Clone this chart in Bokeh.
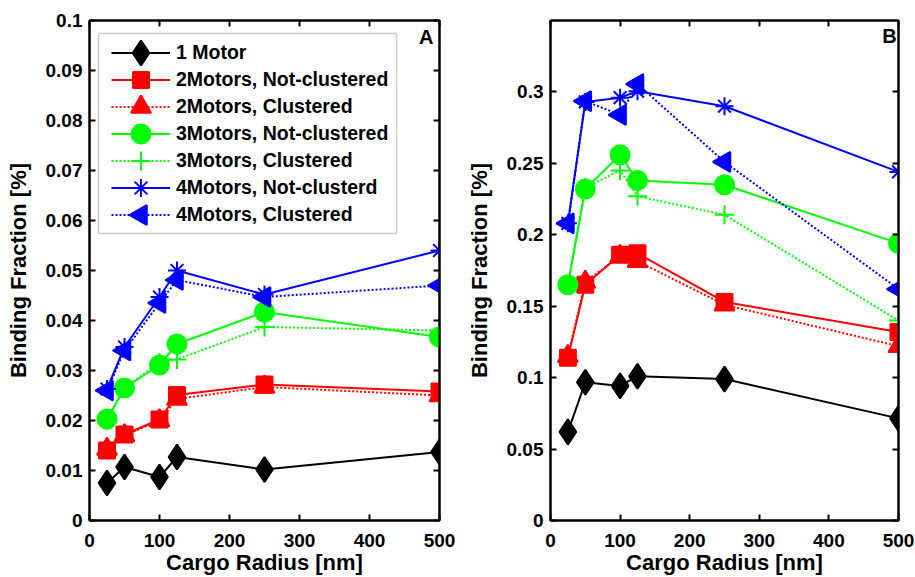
import math
from bokeh.plotting import figure
from bokeh.layouts import row
from bokeh.models import (LinearAxis, FixedTicker, CustomJSTickFormatter, Range1d,
                          Label, Legend, BoxAnnotation)
from bokeh.embed import file_html
from bokeh.resources import INLINE

# ---------------- data ----------------
radius = [25, 50, 100, 125, 250, 500]
series_names = ["1 Motor", "2Motors, Not-clustered", "2Motors, Clustered",
                "3Motors, Not-clustered", "3Motors, Clustered",
                "4Motors, Not-clusterd", "4Motors, Clustered"]

# Panel A
a_1m = [0.0075, 0.0107, 0.0087, 0.0127, 0.0102, 0.0137]
a_2m_nc = [0.0140, 0.0172, 0.0202, 0.0251, 0.0272, 0.0258]
a_2m_c = [0.0143, 0.0170, 0.0200, 0.0243, 0.0267, 0.0250]
a_3m_nc = [0.0203, 0.0265, 0.0311, 0.0353, 0.0417, 0.0367]
a_3m_c = [0.0200, 0.0265, 0.0316, 0.0322, 0.0387, 0.0380]
a_4m_nc = [0.0263, 0.0347, 0.0447, 0.0500, 0.0452, 0.0540]
a_4m_c = [0.0260, 0.0340, 0.0435, 0.0481, 0.0447, 0.0470]

# Panel B
b_1m = [0.0620, 0.0968, 0.0942, 0.1010, 0.0990, 0.0715]
b_2m_nc = [0.1140, 0.1650, 0.1860, 0.1870, 0.1530, 0.1320]
b_2m_c = [0.1150, 0.1670, 0.1850, 0.1815, 0.1510, 0.1220]
b_3m_nc = [0.1650, 0.2320, 0.2560, 0.2380, 0.2350, 0.1940]
b_3m_c = [0.1650, 0.2330, 0.2450, 0.2270, 0.2140, 0.1400]
b_4m_nc = [0.2080, 0.2930, 0.2960, 0.3005, 0.2900, 0.2440]
b_4m_c = [0.2080, 0.2935, 0.2840, 0.3055, 0.2510, 0.1620]

a_ticks = [0, 0.01, 0.02, 0.03, 0.04, 0.05, 0.06, 0.07, 0.08, 0.09, 0.1]
b_ticks = [0, 0.05, 0.1, 0.15, 0.2, 0.25, 0.3]
x_ticks = [0, 100, 200, 300, 400, 500]

styles = [
    dict(color="#000000", marker="diamond", size=25, dash="solid", angle=0.0),
    dict(color="#FF0000", marker="square", size=16, dash="solid", angle=0.0),
    dict(color="#FF0000", marker="triangle", size=20, dash="2 2", angle=0.0),
    dict(color="#00FF00", marker="circle", size=19, dash="solid", angle=0.0),
    dict(color="#00FF00", marker="cross", size=19, dash="2 2", angle=0.0),
    dict(color="#0000FF", marker="asterisk", size=18, dash="solid", angle=0.0),
    dict(color="#0000FF", marker="triangle", size=20, dash="2 2", angle=math.pi / 2),
]

FONT = "Liberation Sans"
fmt = CustomJSTickFormatter(code="""
var s = tick.toFixed(2);
s = s.replace(/0+$/, '').replace(/\\.$/, '');
return s;
""")

# frame geometry (pixels) used to place legend parts
FRAME_H = 500.0
FRAME_W_A = 350.0


def style_axis(ax, labels=True):
    ax.axis_line_width = 2
    ax.axis_line_color = "black"
    ax.major_tick_line_width = 2
    ax.major_tick_line_color = "black"
    ax.major_tick_in = 6
    ax.major_tick_out = 0
    ax.minor_tick_line_color = None
    ax.major_label_text_font = FONT
    ax.major_label_text_font_style = "bold"
    ax.major_label_text_font_size = "19px" if labels else "0px"
    ax.major_label_text_color = "black"
    ax.axis_label_text_font = FONT
    ax.axis_label_text_font_style = "bold"
    ax.axis_label_text_font_size = "22px"
    ax.axis_label_text_color = "black"


def make_panel(data, yticks, ymax, width, bl, br, letter, lx, ly, legend):
    p = figure(width=width, height=577, output_backend="svg", toolbar_location=None,
               x_range=Range1d(0, 500), y_range=Range1d(0, ymax),
               min_border_left=bl, min_border_right=br, min_border_top=20,
               min_border_bottom=57)
    p.grid.grid_line_color = None
    p.outline_line_color = "black"
    p.outline_line_width = 2
    p.background_fill_color = "white"
    p.border_fill_color = "white"

    p.xaxis.ticker = FixedTicker(ticks=x_ticks)
    p.yaxis.ticker = FixedTicker(ticks=yticks)
    p.yaxis.formatter = fmt
    p.xaxis.axis_label = "Cargo Radius [nm]"
    p.yaxis.axis_label = "Binding Fraction [%]"
    style_axis(p.xaxis[0])
    style_axis(p.yaxis[0])
    p.yaxis.major_label_standoff = 7
    p.yaxis.axis_label_standoff = 12
    p.xaxis.major_label_standoff = 13
    p.xaxis.axis_label_standoff = 0

    top = LinearAxis(ticker=FixedTicker(ticks=x_ticks))
    right = LinearAxis(ticker=FixedTicker(ticks=yticks))
    style_axis(top, labels=False)
    style_axis(right, labels=False)
    top.major_label_standoff = 0
    right.major_label_standoff = 0
    p.add_layout(top, "above")
    p.add_layout(right, "right")

    items = []
    for name, ys, st in zip(series_names, data, styles):
        ln = p.line(radius, ys, line_color=st["color"], line_width=2,
                    line_dash=st["dash"])
        p.scatter(radius, ys, marker=st["marker"], size=st["size"],
                  fill_color=st["color"], line_color=st["color"],
                  line_width=2, angle=st["angle"])
        items.append((name, [ln]))

    if legend:
        ux = 500.0 / FRAME_W_A      # data units per pixel (x)
        uy = ymax / FRAME_H         # data units per pixel (y)
        # legend frame: pixels 9..307 from frame left, 13..213 from frame top
        box = BoxAnnotation(left=9 * ux, right=307 * ux,
                            top=ymax - 13 * uy, bottom=ymax - 213 * uy,
                            fill_color="white", fill_alpha=1.0,
                            line_color="#555555", line_width=1.5)
        p.add_layout(box)
        row_h = 27
        top_off = 19
        lg = Legend(items=items, location=(22, int(FRAME_H - top_off - 7 * row_h)))
        lg.margin = 0
        lg.padding = 0
        lg.spacing = 0
        lg.glyph_width = 59
        lg.glyph_height = row_h
        lg.label_height = row_h
        lg.label_standoff = 6
        lg.label_text_font = FONT
        lg.label_text_font_style = "bold"
        lg.label_text_font_size = "19.5px"
        lg.label_text_color = "black"
        lg.border_line_color = None
        lg.background_fill_alpha = 0.0
        p.add_layout(lg, "center")
        # legend markers drawn on top of the legend sample lines
        for i, st in enumerate(styles):
            p.scatter([(22 + 59 / 2.0) * ux], [ymax - (top_off + row_h * (i + 0.5)) * uy],
                      marker=st["marker"], size=st["size"],
                      fill_color=st["color"], line_color=st["color"],
                      line_width=2, angle=st["angle"], level="overlay")

    p.add_layout(Label(x=lx, y=ly, text=letter, text_font=FONT,
                       text_font_style="bold", text_font_size="20px",
                       text_color="black",
                       text_align="center", text_baseline="middle"))
    return p


pa = make_panel([a_1m, a_2m_nc, a_2m_c, a_3m_nc, a_3m_c, a_4m_nc, a_4m_c],
                a_ticks, 0.1, 455, 89, 16, "A", 481, 0.0968, True)
pb = make_panel([b_1m, b_2m_nc, b_2m_c, b_3m_nc, b_3m_c, b_4m_nc, b_4m_c],
                b_ticks, 0.35, 460, 95, 17, "B", 487, 0.339, False)

layout = row(pa, pb)
open("out.html", "w").write(file_html(layout, INLINE))
